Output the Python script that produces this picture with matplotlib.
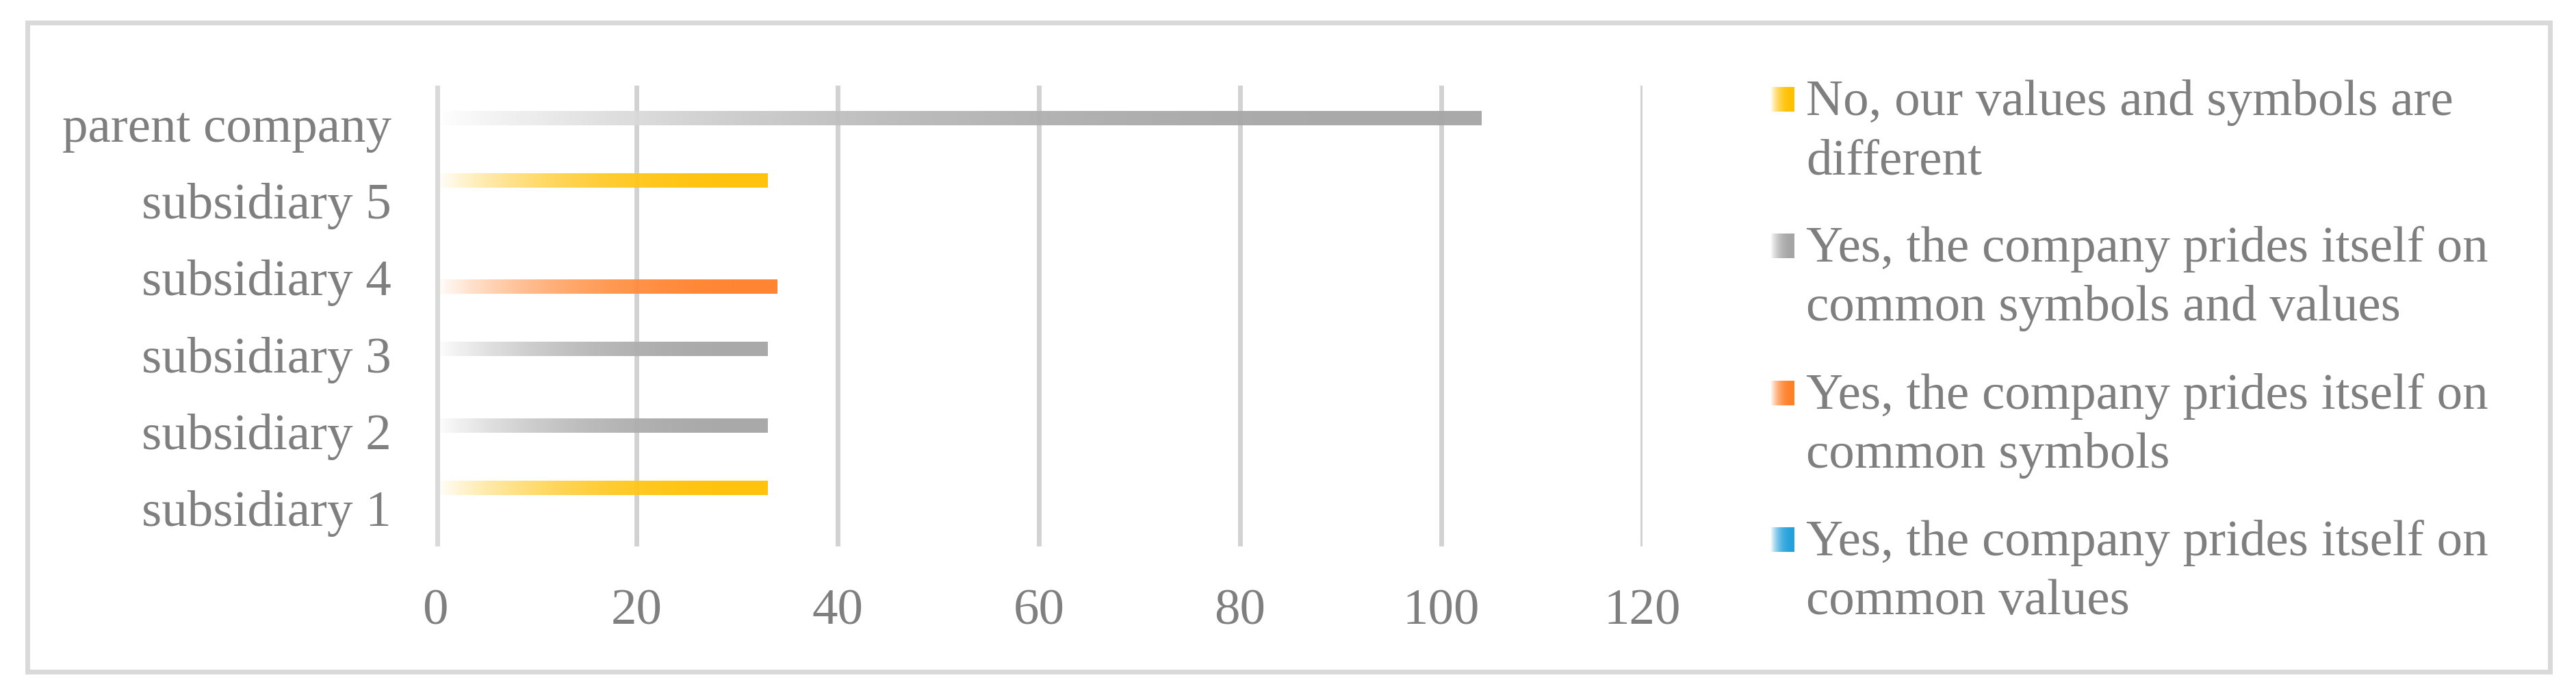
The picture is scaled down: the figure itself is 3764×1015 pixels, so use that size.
import numpy as np
import matplotlib
matplotlib.use('Agg')
import matplotlib.pyplot as plt
from matplotlib.colors import to_rgb
from matplotlib.patches import Rectangle

categories = ['subsidiary 1', 'subsidiary 2', 'subsidiary 3',
              'subsidiary 4', 'subsidiary 5', 'parent company']
no_different = [33, 0, 0, 0, 33, 0]
symbols_and_values = [0, 33, 33, 0, 0, 104]
symbols_only = [0, 0, 0, 34, 0, 0]
values_only = [0, 0, 0, 0, 0, 0]
series_labels = [['No, our values and symbols are', 'different'],
                 ['Yes, the company prides itself on', 'common symbols and values'],
                 ['Yes, the company prides itself on', 'common symbols'],
                 ['Yes, the company prides itself on', 'common values']]
xticks = [0, 20, 40, 60, 80, 100, 120]

colors = ['#FFC000', '#A5A5A5', '#FF7F27', '#24A0DA']
txtcol = '#7F7F7F'
gridcol = '#D2D2D2'
W, H = 3764, 1015

plt.rcParams['font.family'] = ['Liberation Serif', 'DejaVu Serif']


def grad_img(col, n=256):
    # white on the left, full colour on the right
    t = np.linspace(0, 1, n)
    a = 1 - (1 - t) ** 2.5
    c = np.array(to_rgb(col))
    rgb = (1 - a)[:, None] * np.ones(3) + a[:, None] * c
    return rgb[None, :, :]


fig = plt.figure(figsize=(W / 100, H / 100), dpi=100)
ax = fig.add_axes([636 / W, 1 - 798 / H, (2400 - 636) / W, (798 - 125) / H])

y = np.arange(len(categories))
h = 0.1875
all_series = [no_different, symbols_and_values, symbols_only, values_only]
for k, vals in enumerate(all_series):
    off = (1.5 - k) * h - 0.02
    bars = ax.barh(y + off, vals, height=h, color='none', edgecolor='none', zorder=2)
    for b in bars:
        w = b.get_width()
        if w <= 0:
            continue
        x0, y0 = b.get_x(), b.get_y()
        im = ax.imshow(grad_img(colors[k]), extent=[x0, x0 + w, y0, y0 + b.get_height()],
                       aspect='auto', interpolation='bilinear', zorder=2, alpha=0.95)
        im.set_clip_path(b)

ax.set_xlim(0, 120)
ax.set_ylim(-0.5, len(categories) - 0.5)
ax.set_xticks(xticks)
ax.set_yticks(y)
ax.set_yticklabels(categories)
ax.tick_params(axis='both', length=0, labelsize=54, labelcolor=txtcol)
ax.tick_params(axis='x', pad=45)
ax.tick_params(axis='y', pad=46)
for s in ax.spines.values():
    s.set_visible(False)
ax.xaxis.grid(True, color=gridcol, linewidth=5)
ax.set_axisbelow(True)
ax.axvline(0, color='#D9D9D9', linewidth=9.4, zorder=3)

# overlay in pixel coordinates for frame and legend
ov = fig.add_axes([0, 0, 1, 1], zorder=5)
ov.set_xlim(0, W)
ov.set_ylim(H, 0)
ov.axis('off')
ov.add_patch(Rectangle((40, 33), 3686, 948, fill=False, edgecolor='#D9D9D9', linewidth=5))

base = [168, 382, 597, 811]
for k, lines in enumerate(series_labels):
    b0 = base[k]
    ov.imshow(grad_img(colors[k]), extent=[2587, 2622, b0 - 5, b0 - 41],
              aspect='auto', interpolation='bilinear')
    for j, line in enumerate(lines):
        ov.text(2639, b0 + 86 * j, line, fontsize=54, color=txtcol, va='baseline', ha='left')
ov.set_xlim(0, W)
ov.set_ylim(H, 0)

plt.savefig('out.png', dpi=100)
